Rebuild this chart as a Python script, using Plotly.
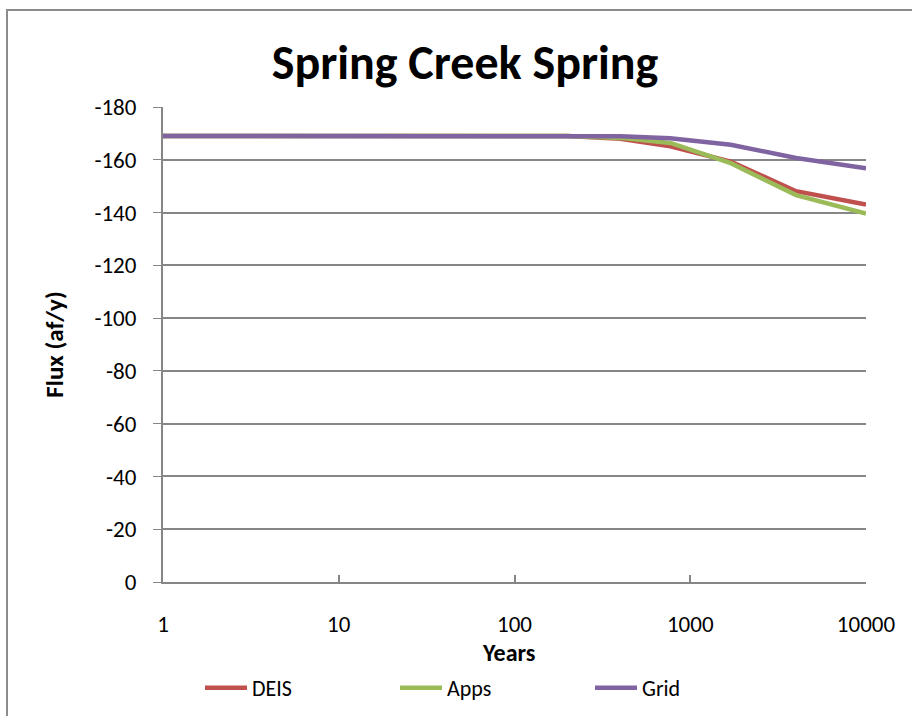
import plotly.graph_objects as go

years = [1, 2, 5, 10, 20, 50, 100, 200, 400, 770, 1700, 4000, 10000]
deis = [-169, -169, -169, -169, -169, -169, -169, -169, -168.0, -165.1, -159.3, -148.1, -143.0]
apps = [-169, -169, -169, -169, -169, -169, -169, -169, -168.3, -166.4, -158.7, -146.6, -139.6]
grid = [-169, -169, -169, -169, -169, -169, -169, -169, -168.9, -168.2, -165.7, -160.7, -156.8]

series = [("DEIS", deis, "#C0504D"), ("Apps", apps, "#9BBB59"), ("Grid", grid, "#8064A2")]
y_ticks = [0, -20, -40, -60, -80, -100, -120, -140, -160, -180]
x_ticks = [1, 10, 100, 1000, 10000]

FONT = "Carlito, Lato, sans-serif"
W, H = 912, 716
L, R, T, B = 163, 46, 107, 134
PW, PH = W - L - R, H - T - B

fig = go.Figure()
for name, vals, col in series:
    fig.add_trace(go.Scatter(x=years, y=vals, name=name, mode="lines",
                             line=dict(color=col, width=4.5)))

fig.update_layout(
    width=W, height=H,
    margin=dict(l=L, r=R, t=T, b=B, autoexpand=False),
    paper_bgcolor="white", plot_bgcolor="white",
    font=dict(family=FONT, size=22, color="black"),
    title=dict(text="<b>Spring Creek Spring</b>", x=465 / W, xanchor="center", xref="container",
               y=1 - 62 / H, yanchor="middle", yref="container", font=dict(size=48, family=FONT)),
    showlegend=True,
    legend=dict(orientation="h", x=(200 - L) / PW, xref="paper", y=-(688 - (T + PH)) / PH,
                yanchor="middle", xanchor="left", entrywidth=138, font=dict(size=22),
                itemwidth=42, tracegroupgap=0),
    shapes=[dict(type="rect", xref="paper", yref="paper",
                 x0=(7 - L) / PW, x1=1.2, y0=-0.5, y1=1 + (T - 10) / PH,
                 line=dict(color="#8c8c8c", width=2), layer="below")],
    annotations=[dict(text="<b>Years</b>", xref="paper", yref="paper",
                      x=(508 - L) / PW, y=-(652 - (T + PH)) / PH, xanchor="center",
                      yanchor="middle", showarrow=False, font=dict(size=24, family=FONT))],
)
fig.update_xaxes(type="log", range=[0, 4], tickvals=x_ticks, ticktext=[str(v) for v in x_ticks],
                 showgrid=False, showline=True, linecolor="#868686", linewidth=2,
                 ticks="inside", ticklen=7, tickcolor="#868686", tickwidth=1.5,
                 tickfont=dict(size=23), ticklabelstandoff=20, automargin=False,
                 zeroline=False)
fig.update_yaxes(range=[0, -180], tickvals=y_ticks, ticktext=[str(v) for v in y_ticks],
                 showgrid=True, gridcolor="#868686", gridwidth=1.5,
                 showline=True, linecolor="#868686", linewidth=2,
                 ticks="outside", ticklen=8, tickcolor="#868686", automargin=False,
                 tickfont=dict(size=23), zeroline=False, ticklabelstandoff=12,
                 title=dict(text="<b>Flux (af/y)</b>", font=dict(size=25), standoff=24))

fig.write_html("out.html", config={"displayModeBar": False},
               post_script="document.body.style.margin='0px';")
